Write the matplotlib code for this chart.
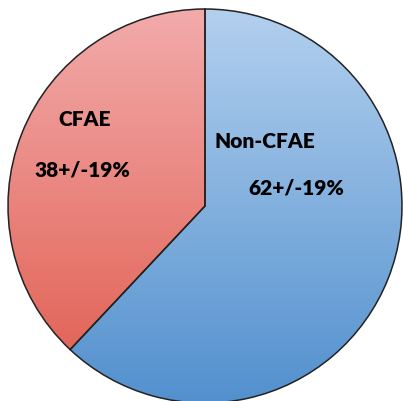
import matplotlib
matplotlib.use("Agg")
import matplotlib.pyplot as plt
import numpy as np
from matplotlib.colors import LinearSegmentedColormap

labels = ["Non-CFAE", "CFAE"]
shares = [62, 38]
spreads = [19, 19]

W, H = 403, 402
fig = plt.figure(figsize=(W / 100, H / 100), dpi=100)
ax = fig.add_axes([0, 0, 1, 1])

cx, cy, r = 205, H - 207, 197
wedges, _ = ax.pie(shares, startangle=90, counterclock=False, center=(cx, cy),
                   radius=r, frame=True,
                   wedgeprops=dict(edgecolor="#222222", linewidth=1.1, facecolor="none"))
ax.set_xlim(0, W)
ax.set_ylim(0, H)
ax.set_aspect("auto")
ax.axis("off")

# vertical gradient inside each slice
grads = [("#b3d0ee", "#5290ce"), ("#f2abab", "#e05b4d")]
ramp = np.linspace(0, 1, 256).reshape(-1, 1)
for w, (top, bot) in zip(wedges, grads):
    cmap = LinearSegmentedColormap.from_list("g", [bot, top])
    im = ax.imshow(ramp, cmap=cmap, extent=(cx - r, cx + r, cy - r, cy + r),
                   origin="lower", aspect="auto", zorder=0)
    im.set_clip_path(w)
    w.set_zorder(2)

font = dict(family=["Lato", "DejaVu Sans"], fontweight="heavy", color="black", fontsize=15)
ax.text(85, H - 120, labels[1], ha="center", va="center", **font)
ax.text(82, H - 170, "%d+/-%d%%" % (shares[1], spreads[1]), ha="center", va="center", **font)
ax.text(265, H - 142, labels[0], ha="center", va="center", **font)
ax.text(296, H - 188, "%d+/-%d%%" % (shares[0], spreads[0]), ha="center", va="center", **font)

fig.savefig("out.png", dpi=100, facecolor="white")
